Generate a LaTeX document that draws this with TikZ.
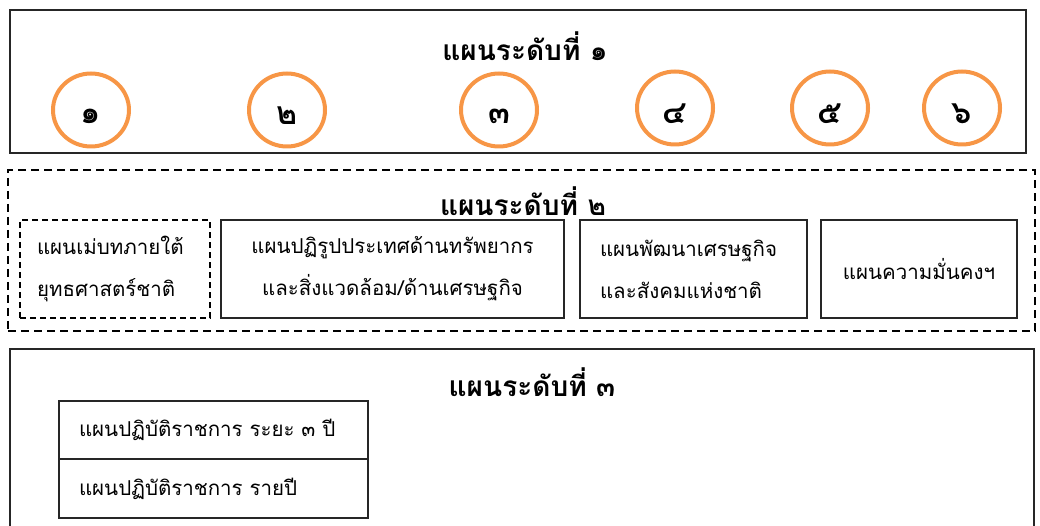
\documentclass[tikz,border=0pt]{standalone}
\usepackage{fontspec}
\newfontfamily\thaifont[Script=Thai]{Loma}
\usetikzlibrary{positioning,shapes.geometric}

\definecolor{circleorange}{HTML}{F79646}
\definecolor{boxline}{HTML}{262626}

\tikzset{
  levelframe/.style={draw=boxline, line width=1.3pt, inner sep=0pt},
  dashframe/.style={draw=black, line width=2pt, dash pattern=on 8pt off 5pt, inner sep=0pt},
  leveltitle/.style={font=\thaifont\bfseries\fontsize{28}{32}\selectfont},
  plannum/.style={ellipse, draw=circleorange, line width=4pt, minimum width=76pt, minimum height=73pt, inner sep=0pt},
  numtext/.style={font=\thaifont\bfseries\fontsize{32}{36}\selectfont},
  planbox/.style={draw=boxline, line width=1.2pt, inner sep=0pt, font=\thaifont\fontsize{20.5}{42}\selectfont},
  dashbox/.style={planbox, draw=black, line width=1.5pt, dash pattern=on 6pt off 4pt}
}

\begin{document}
\begin{tikzpicture}[x=1pt, y=-1pt]
    \useasboundingbox (0,0) rectangle (1040,526);
    \clip (0,0) rectangle (1040,526);

    % Level 1
    \node[levelframe, minimum width=1016pt, minimum height=143pt] (levelone) at (518,81.5) {};
    \node[leveltitle] (titleone) at (525,46) {แผนระดับที่ ๑};

    % Numbered circles
    \foreach \i/\x/\y/\d in {1/91/110/๑, 2/287/110/๒, 3/499/110/๓, 4/675/108/๔, 5/830/108/๕, 6/962/108/๖}{
      \node[plannum] (num\i) at (\x,\y) {};
      \node[numtext] (numlabel\i) at ([yshift=-6pt]num\i.center) {\d};
    }

    % Level 2
    \node[dashframe, minimum width=1027pt, minimum height=161pt] (leveltwo) at (521.5,250.5) {};
    \node[leveltitle] (titletwo) at (523,201) {แผนระดับที่ ๒};

    \node[dashbox, minimum width=190pt, minimum height=98pt, inner xsep=17pt, text width=156pt, align=left] (masterplan) at (115,269) {แผนเม่บทภายใต้\\ยุทธศาสตร์ชาติ};
    \node[planbox, minimum width=343pt, minimum height=98pt, align=center] (reformplan) at (392.5,269) {แผนปฏิรูปประเทศด้านทรัพยากร\\และสิ่งแวดล้อม/ด้านเศรษฐกิจ};
    \node[planbox, minimum width=227pt, minimum height=98pt, inner xsep=20pt, text width=187pt, align=left] (devplan) at (693.5,269) {แผนพัฒนาเศรษฐกิจ\\และสังคมแห่งชาติ};
    \node[planbox, minimum width=196pt, minimum height=98pt, align=center] (securityplan) at (919,269) {แผนความมั่นคงฯ};

    % Level 3
    \node[levelframe, minimum width=1024pt, minimum height=231pt] (levelthree) at (522,464.5) {};
    \node[leveltitle] (titlethree) at (532,382) {แผนระดับที่ ๓};

    \node[planbox, minimum width=309pt, minimum height=58pt, inner xsep=20pt, text width=269pt, align=left] (threeyear) at (213.5,430) {แผนปฏิบัติราชการ ระยะ ๓ ปี};
    \node[planbox, minimum width=309pt, minimum height=59pt, inner xsep=20pt, text width=269pt, align=left] (annual) at (213.5,488.5) {แผนปฏิบัติราชการ รายปี};
  \end{tikzpicture}
\end{document}
